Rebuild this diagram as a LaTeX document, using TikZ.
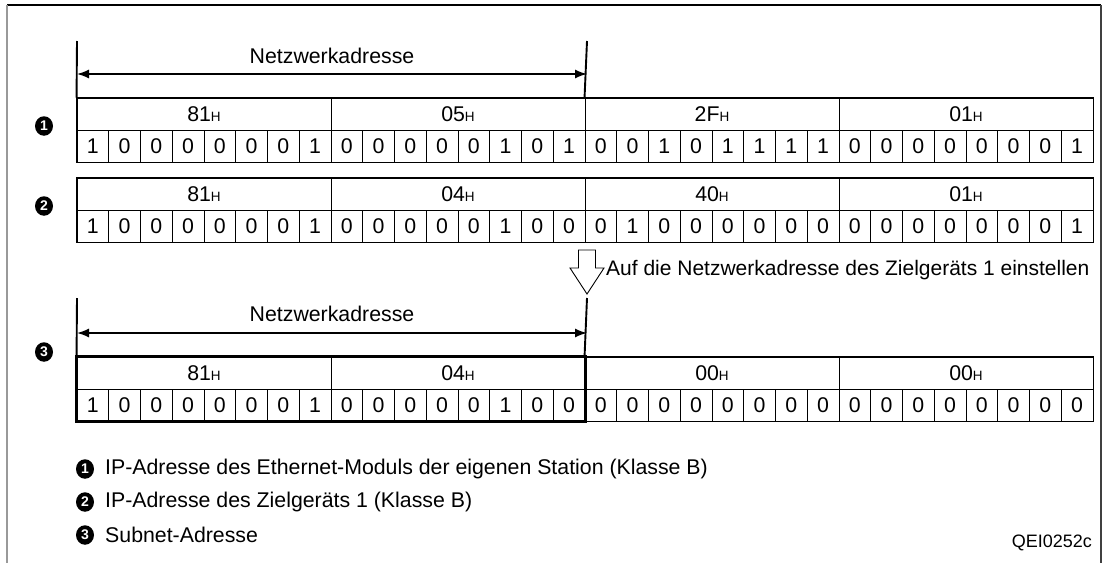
\documentclass[tikz,border=0pt]{standalone}
\usepackage{fontspec}
\setmainfont{Liberation Sans}
\usetikzlibrary{arrows.meta,shapes.geometric}
\newcommand{\hx}[1]{#1{\fontsize{13.5}{13.5}\selectfont H}}
\newcommand{\drawtable}[4]{%
  \foreach \h [count=\i from 0] in {#3} {
    \node[hexcell] (#1h\i) at ({204+254*\i}, {#2+16}) {\h};
  }
  \foreach \b [count=\i from 0] in {#4} {
    \node[bitcell] (#1b\i) at ({92.875+31.75*\i}, {#2+48}) {\b};
  }
  \draw[outerbox] (#1h0.north west) rectangle (#1b31.south east);
}
\begin{document}
\begin{tikzpicture}[x=1pt,y=-1pt,
  txt/.style={font=\fontsize{21.3}{24}\selectfont, inner sep=0pt},
  bitcell/.style={draw, line width=0.9pt, minimum width=31.75pt, minimum height=32pt, inner sep=0pt, font=\fontsize{21.3}{21}\selectfont},
  hexcell/.style={draw, line width=0.9pt, minimum width=254pt, minimum height=32pt, inner sep=0pt, font=\fontsize{21.3}{21}\selectfont},
  outerbox/.style={line width=1.6pt},
  netbox/.style={line width=2.6pt},
  bar/.style={line width=1.9pt},
  dimarrow/.style={line width=1.5pt, {Latex[length=12pt,width=9pt]}-{Latex[length=12pt,width=9pt]}},
  num/.style={ellipse, fill=black, minimum width=18pt, minimum height=19.5pt, inner sep=0pt, text=white, font=\fontsize{14}{14}\selectfont\bfseries},
]
\useasboundingbox (0,0) rectangle (1106,563);
% frame
\draw[line width=1.8pt, black] (7,5) -- (1101,5);
\draw[line width=2.2pt, gray!80] (7,5) -- (7,563);
\draw[line width=2pt, black!75] (1101,5) -- (1101,563);

% row 1
\drawtable{ra}{98}{\hx{81},\hx{05},\hx{2F},\hx{01}}{1,0,0,0,0,0,0,1,0,0,0,0,0,1,0,1,0,0,1,0,1,1,1,1,0,0,0,0,0,0,0,1}
\coordinate (ta1) at (77,41);
\coordinate (ta2) at (587,41);
\draw[bar] (ta1) -- (rah0.north west);
\draw[bar] (ta2) -- (rah2.north west);
\coordinate (aa1) at (77,74);
\coordinate (aa2) at (587,74);
\draw[dimarrow] (aa1) -- (aa2);
\node[txt] (nwa) at (332,56) {Netzwerkadresse};
\node[num] (c1) at (44,126) {1};

% row 2
\drawtable{rb}{178}{\hx{81},\hx{04},\hx{40},\hx{01}}{1,0,0,0,0,0,0,1,0,0,0,0,0,1,0,0,0,1,0,0,0,0,0,0,0,0,0,0,0,0,0,1}
\node[num] (c2) at (44,206) {2};

% hollow arrow
\draw[line width=0.9pt, fill=white] (578.5,250) -- (595.5,250) -- (595.5,268) -- (604,268) -- (587,294) -- (570,268) -- (578.5,268) -- cycle;
\node[txt, anchor=west, font=\fontsize{21}{24}\selectfont] (auf) at (606,270) {Auf die Netzwerkadresse des Zielgeräts 1 einstellen};

% row 3
\drawtable{rc}{357}{\hx{81},\hx{04},\hx{00},\hx{00}}{1,0,0,0,0,0,0,1,0,0,0,0,0,1,0,0,0,0,0,0,0,0,0,0,0,0,0,0,0,0,0,0}
\draw[netbox] (rch0.north west) rectangle (rcb15.south east);
\coordinate (tc1) at (77,298);
\coordinate (tc2) at (587,298);
\draw[bar] (tc1) -- (rch0.north west);
\draw[bar] (tc2) -- (rch2.north west);
\coordinate (ac1) at (77,333);
\coordinate (ac2) at (587,333);
\draw[dimarrow] (ac1) -- (ac2);
\node[txt] (nwc) at (332,314) {Netzwerkadresse};
\node[num] (c3) at (44,352) {3};

% legend
\node[num] (l1) at (85,469) {1};
\node[txt, anchor=west] (t1) at (105,469) {IP-Adresse des Ethernet-Moduls der eigenen Station (Klasse B)};
\node[num] (l2) at (85,502) {2};
\node[txt, anchor=west] (t2) at (105,502) {IP-Adresse des Zielgeräts 1 (Klasse B)};
\node[num] (l3) at (85,535) {3};
\node[txt, anchor=west] (t3) at (105,535) {Subnet-Adresse};
\node[txt, anchor=east, font=\fontsize{18}{20}\selectfont] (qei) at (1092,543) {QEI0252c};
\end{tikzpicture}
\end{document}
